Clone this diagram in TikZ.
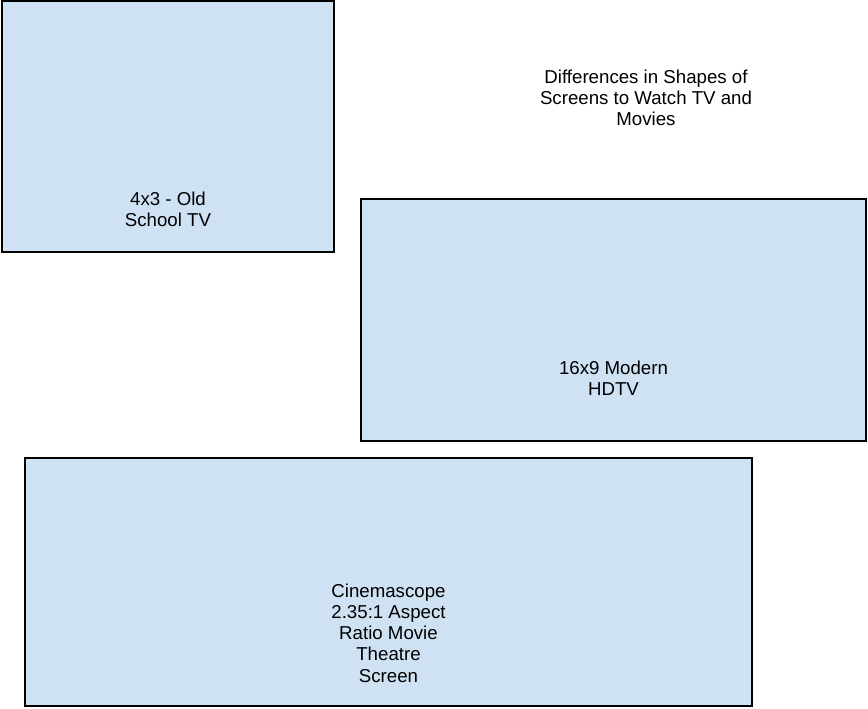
\documentclass[tikz,border=0pt]{standalone}
\usepackage{fontspec}
\setmainfont{Liberation Sans}
\usepackage{tikz}

\definecolor{screenblue}{HTML}{CFE2F3}

\begin{document}
\begin{tikzpicture}[x=0.75pt,y=-0.75pt,
  screen/.style={rectangle,fill=screenblue,draw=black,line width=1.2pt,inner sep=0pt},
  caption/.style={align=center,inner sep=0pt,font=\fontsize{14}{15.9}\selectfont}]

  \useasboundingbox (0,0) rectangle (868,708);

  % the three screens
  \node[screen,minimum width=249pt,minimum height=188.25pt] (old) at (168,126.5) {};
  \node[screen,minimum width=378.75pt,minimum height=181.5pt] (hdtv) at (613.5,320) {};
  \node[screen,minimum width=545.25pt,minimum height=186pt] (cinema) at (388.5,582) {};

  % captions
  \node[caption] (title) at (646,98) {Differences in Shapes of\\Screens to Watch TV and\\Movies};
  \node[caption] (oldtext) at (168,209) {4x3 - Old\\School TV};
  \node[caption] (hdtvtext) at (613.5,378) {16x9 Modern\\HDTV};
  \node[caption] (cinematext) at (388.5,633) {Cinemascope\\2.35:1 Aspect\\Ratio Movie\\Theatre\\Screen};

\end{tikzpicture}
\end{document}
